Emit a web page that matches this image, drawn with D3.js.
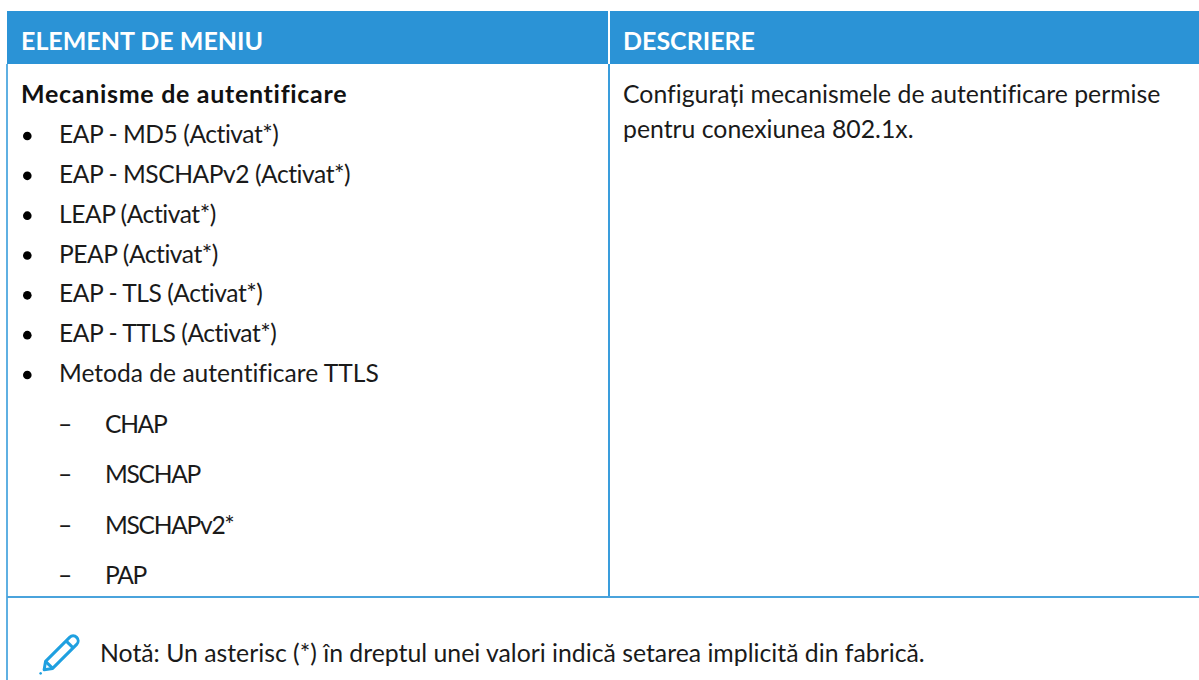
<!DOCTYPE html>
<html>
<head>
<meta charset="utf-8">
<script src="https://cdn.jsdelivr.net/npm/d3@7/dist/d3.min.js"></script>
<style>
  html, body { margin: 0; padding: 0; background: #fff; }
  svg { display: block; }
  text { font-family: Lato, "Noto Sans", sans-serif; fill: #1a1a1a; font-variant-ligatures: none; }
</style>
</head>
<body>
<div id="chart"></div>
<script>
var headers = ["ELEMENT DE MENIU", "DESCRIERE"];
var menuTitle = "Mecanisme de autentificare";
var bulletItems = ["EAP - MD5 (Activat*)", "EAP - MSCHAPv2 (Activat*)", "LEAP (Activat*)", "PEAP (Activat*)",
  "EAP - TLS (Activat*)", "EAP - TTLS (Activat*)", "Metoda de autentificare TTLS"];
var dashItems = ["CHAP", "MSCHAP", "MSCHAPv2*", "PAP"];
var descriptionLines = ["Configurați mecanismele de autentificare permise", "pentru conexiunea 802.1x."];
var noteText = "Notă: Un asterisc (*) în dreptul unei valori indică setarea implicită din fabrică.";

var width = 1199, height = 680;
var blue = "#2b93d6", rule = "#5fb0e2";
var listSize = "24.6px", textSize = "24.8px";

var svg = d3.select("#chart").append("svg")
  .attr("width", width)
  .attr("height", height);

// Table frame
var left = 7, split = 609, headTop = 11, headBottom = 64, rowBottom = 597;

svg.append("rect").attr("x", left).attr("y", headTop)
  .attr("width", width - left).attr("height", headBottom - headTop).attr("fill", blue);
svg.append("line").attr("x1", split).attr("x2", split).attr("y1", headTop).attr("y2", headBottom)
  .attr("stroke", "#fff").attr("stroke-width", 2);
svg.append("line").attr("x1", split).attr("x2", split).attr("y1", headBottom).attr("y2", rowBottom)
  .attr("stroke", "#3a9ddc").attr("stroke-width", 2);
svg.append("line").attr("x1", 7).attr("x2", 7).attr("y1", headBottom).attr("y2", height)
  .attr("stroke", rule).attr("stroke-width", 2);
svg.append("line").attr("x1", left).attr("x2", width).attr("y1", rowBottom).attr("y2", rowBottom)
  .attr("stroke", "#4aa3dc").attr("stroke-width", 2);

// Header labels
svg.selectAll("text.head")
  .data(headers)
  .enter().append("text")
  .attr("class", "head")
  .attr("x", function(d, i) { return i == 0 ? 21 : 623; })
  .attr("y", 50)
  .style("font-size", "25px")
  .style("font-weight", 700)
  .style("fill", "#fff")
  .text(function(d) { return d; });

// Left column
svg.append("text").attr("x", 21).attr("y", 102.7)
  .style("font-size", "25px").style("font-weight", 700)
  .style("letter-spacing", "0.7px")
  .style("fill", "#111")
  .text(menuTitle);

var bulletY = d3.scalePoint().domain(bulletItems).range([143, 382]);
svg.selectAll("circle.bullet")
  .data(bulletItems)
  .enter().append("circle")
  .attr("class", "bullet")
  .attr("cx", 27.3)
  .attr("cy", function(d) { return bulletY(d) - 7; })
  .attr("r", 4.3)
  .attr("fill", "#000");
svg.selectAll("text.item")
  .data(bulletItems)
  .enter().append("text")
  .attr("class", "item")
  .attr("x", 59)
  .attr("y", function(d) { return bulletY(d); })
  .style("font-size", listSize)
  // reference font has narrower capitals than Lato
  .style("letter-spacing", function(d) { return d.indexOf("Activat") > -1 ? "-0.45px" : null; })
  .text(function(d) { return d; });

var dashY = d3.scalePoint().domain(dashItems).range([432.5, 584]);
svg.selectAll("text.dash")
  .data(dashItems)
  .enter().append("text")
  .attr("class", "dash")
  .attr("x", 58)
  .attr("y", function(d) { return dashY(d); })
  .style("font-size", listSize)
  .text("–");
svg.selectAll("text.sub")
  .data(dashItems)
  .enter().append("text")
  .attr("class", "sub")
  .attr("x", 105)
  .attr("y", function(d) { return dashY(d); })
  .style("font-size", listSize)
  .style("letter-spacing", "-1.3px")
  .text(function(d) { return d; });

// Description
svg.selectAll("text.desc")
  .data(descriptionLines)
  .enter().append("text")
  .attr("class", "desc")
  .attr("x", 623)
  .attr("y", function(d, i) { return 102.7 + i * 35.6; })
  .style("font-size", textSize)
  .text(function(d) { return d; });

// Note with pencil icon
var pencil = svg.append("g")
  .attr("transform", "translate(59,655) rotate(45)")
  .attr("fill", "none")
  .attr("stroke", "#1fa0e0")
  .attr("stroke-width", 3)
  .attr("stroke-linejoin", "round");
pencil.append("path").attr("d", "M-5,14 L-5,-20 A5,5 0 0 1 5,-20 L5,14 L0,21 Z");
pencil.append("path").attr("d", "M-5,-15 L5,-15");
pencil.append("path").attr("d", "M-5,14 L5,14");
pencil.append("circle").attr("cx", 0).attr("cy", 26).attr("r", 1.4).attr("fill", "#1fa0e0").attr("stroke", "none");

svg.append("text").attr("x", 100).attr("y", 661.7)
  .style("font-size", textSize)
  .text(noteText);
</script>
</body>
</html>
